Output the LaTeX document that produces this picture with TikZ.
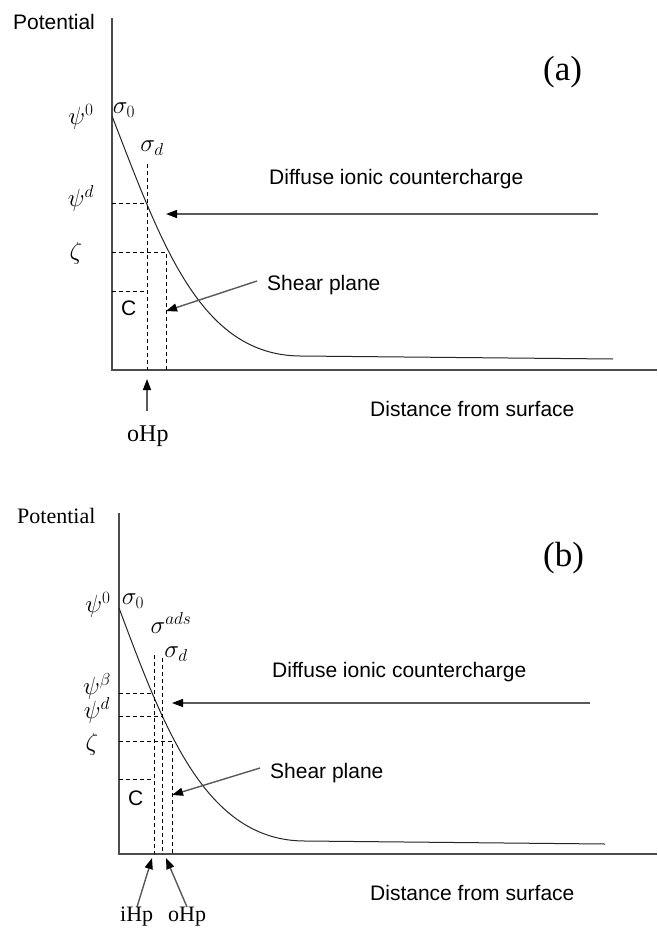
\documentclass[tikz,border=0pt]{standalone}
\usepackage{fontspec}
\setmainfont{Liberation Serif}
\setsansfont{Liberation Sans}
\usetikzlibrary{arrows.meta}
\begin{document}
\begin{tikzpicture}[x=1pt,y=-1pt,
  axis/.style={line width=1.5pt, draw=black!70},
  curve/.style={line width=1pt, draw=black!85},
  dsh/.style={line width=1pt, dash pattern=on 4pt off 3pt},
  arr/.style={line width=1.4pt, draw=black!65, -{Triangle[length=11pt,width=8pt,color=black]}},
  sanslbl/.style={font=\sffamily\fontsize{21}{21}\selectfont, inner sep=0pt, anchor=base west},
  seriflbl/.style={font=\fontsize{24}{24}\selectfont, inner sep=0pt, anchor=base west},
  bigserif/.style={font=\fontsize{35}{35}\selectfont, inner sep=0pt, anchor=base west},
  greek/.style={font=\fontsize{27}{27}\selectfont, inner sep=0pt},
]
\fill[white] (0,0) rectangle (657,928);
\useasboundingbox (0,0) rectangle (657,928);

% ===================== panel (a) =====================
\coordinate (aO) at (112,370);
\coordinate (aYtop) at (112,18);
\coordinate (aXend) at (657,370);
\draw[axis] (aYtop) -- (aO) -- (aXend);

\coordinate (aC0) at (112,116);
\coordinate (aC1) at (300,356);
\coordinate (aC2) at (613,359);
\draw[curve] (aC0) .. controls (162,245) and (200,355) .. (aC1) -- (aC2);

\coordinate (aV1t) at (147,164); \coordinate (aV1b) at (147,370);
\coordinate (aV2t) at (166,252); \coordinate (aV2b) at (166,370);
\coordinate (aH1a) at (112,203); \coordinate (aH1b) at (147,203);
\coordinate (aH2a) at (112,252);
\coordinate (aH3a) at (112,291); \coordinate (aH3b) at (147,291);
\draw[dsh] (aV1t) -- (aV1b);
\draw[dsh] (aH1a) -- (aH1b);
\draw[dsh] (aH2a) -- (aV2t) -- (aV2b);
\draw[dsh] (aH3a) -- (aH3b);

\coordinate (aDiffTail) at (598,214); \coordinate (aDiffTip) at (166,214);
\draw[arr] (aDiffTail) -- (aDiffTip);
\coordinate (aShTail) at (257,281); \coordinate (aShTip) at (166,311);
\draw[arr] (aShTail) -- (aShTip);
\coordinate (aoTail) at (147,411); \coordinate (aoTip) at (147,379);
\draw[arr] (aoTail) -- (aoTip);

\node[sanslbl] (aPot) at (13,30) {Potential};
\node[bigserif] (aLab) at (543,81) {(a)};
\node[sanslbl] (aDiff) at (269,185) {Diffuse ionic countercharge};
\node[sanslbl] (aShear) at (267,290) {Shear plane};
\node[sanslbl] (aDist) at (370,416) {Distance from surface};
\node[seriflbl] (aoHp) at (127,441) {oHp};
\node[sanslbl] (aC) at (121,315) {C};
\node[greek] (apsi0) at (81,117) {$\psi^0$};
\node[greek] (asig0) at (124,110) {$\sigma_0$};
\node[greek] (asigd) at (152,148) {$\sigma_d$};
\node[greek] (apsid) at (81,198) {$\psi^d$};
\node[greek] (azeta) at (76,253) {$\zeta$};

% ===================== panel (b) =====================
\coordinate (bO) at (119,854);
\coordinate (bYtop) at (119,513);
\coordinate (bXend) at (657,854);
\draw[axis] (bYtop) -- (bO) -- (bXend);

\coordinate (bC0) at (119,608);
\coordinate (bC1) at (305,841);
\coordinate (bC2) at (605,844);
\draw[curve] (bC0) .. controls (164,728) and (205,841) .. (bC1) -- (bC2);

\coordinate (bV1t) at (154,655); \coordinate (bV1b) at (154,854);
\coordinate (bV2t) at (162,658); \coordinate (bV2b) at (162,854);
\coordinate (bV3t) at (172,741); \coordinate (bV3b) at (172,854);
\coordinate (bH1a) at (119,693); \coordinate (bH1b) at (154,693);
\coordinate (bH2a) at (119,716); \coordinate (bH2b) at (162,716);
\coordinate (bH3a) at (119,741);
\coordinate (bH4a) at (119,779); \coordinate (bH4b) at (154,779);
\draw[dsh] (bV1t) -- (bV1b);
\draw[dsh] (bV2t) -- (bV2b);
\draw[dsh] (bH3a) -- (bV3t) -- (bV3b);
\draw[dsh] (bH1a) -- (bH1b);
\draw[dsh] (bH2a) -- (bH2b);
\draw[dsh] (bH4a) -- (bH4b);

\coordinate (bDiffTail) at (590,703); \coordinate (bDiffTip) at (172,703);
\draw[arr] (bDiffTail) -- (bDiffTip);
\coordinate (bShTail) at (260,768); \coordinate (bShTip) at (172,795);
\draw[arr] (bShTail) -- (bShTip);
\coordinate (biTail) at (137,907); \coordinate (biTip) at (152,858);
\draw[arr] (biTail) -- (biTip);
\coordinate (boTail) at (187,907); \coordinate (boTip) at (166,858);
\draw[arr] (boTail) -- (boTip);

\node[font=\fontsize{22}{22}\selectfont, inner sep=0pt, anchor=base west] (bPot) at (17,523) {Potential};
\node[bigserif] (bLab) at (543,566) {(b)};
\node[sanslbl] (bDiff) at (272,677) {Diffuse ionic countercharge};
\node[sanslbl] (bShear) at (270,778) {Shear plane};
\node[sanslbl] (bDist) at (370,900) {Distance from surface};
\node[font=\fontsize{22}{22}\selectfont, inner sep=0pt, anchor=base west] (biHp) at (120,921) {iHp};
\node[font=\fontsize{22}{22}\selectfont, inner sep=0pt, anchor=base west] (boHp) at (168,921) {oHp};
\node[sanslbl] (bC) at (128,805) {C};
\node[greek] (bpsi0) at (98,605) {$\psi^0$};
\node[greek] (bsig0) at (133,601) {$\sigma_0$};
\node[greek] (bsigads) at (171,623) {$\sigma^{ads}$};
\node[greek] (bsigd) at (176,654) {$\sigma_d$};
\node[greek] (bpsib) at (97,686) {$\psi^\beta$};
\node[greek] (bpsid) at (97,710) {$\psi^d$};
\node[greek] (bzeta) at (92,744) {$\zeta$};
\end{tikzpicture}
\end{document}
